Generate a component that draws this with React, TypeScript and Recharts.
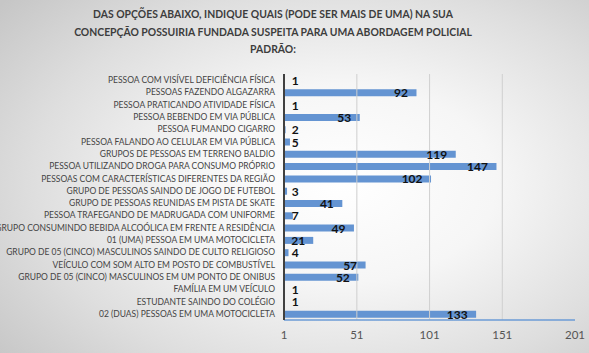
import { BarChart, Bar, XAxis, YAxis, ReferenceLine, LabelList } from 'recharts';

const categories = [
  'PESSOA COM VISÍVEL DEFICIÊNCIA FÍSICA',
  'PESSOAS FAZENDO ALGAZARRA',
  'PESSOA PRATICANDO ATIVIDADE FÍSICA',
  'PESSOA BEBENDO EM VIA PÚBLICA',
  'PESSOA FUMANDO CIGARRO',
  'PESSOA FALANDO AO CELULAR EM VIA PÚBLICA',
  'GRUPOS DE PESSOAS EM TERRENO BALDIO',
  'PESSOA UTILIZANDO DROGA PARA CONSUMO PRÓPRIO',
  'PESSOAS COM CARACTERÍSTICAS DIFERENTES DA REGIÃO',
  'GRUPO DE PESSOAS SAINDO DE JOGO DE FUTEBOL',
  'GRUPO DE PESSOAS REUNIDAS EM PISTA DE SKATE',
  'PESSOA TRAFEGANDO DE MADRUGADA COM UNIFORME',
  'GRUPO CONSUMINDO BEBIDA ALCOÓLICA EM FRENTE A RESIDÊNCIA',
  '01 (UMA) PESSOA EM UMA MOTOCICLETA',
  'GRUPO DE 05 (CINCO) MASCULINOS SAINDO DE CULTO RELIGIOSO',
  'VEÍCULO COM SOM ALTO EM POSTO DE COMBUSTÍVEL',
  'GRUPO DE 05 (CINCO) MASCULINOS EM UM PONTO DE ONIBUS',
  'FAMÍLIA EM UM VEÍCULO',
  'ESTUDANTE SAINDO DO COLÉGIO',
  '02 (DUAS) PESSOAS EM UMA MOTOCICLETA',
];

const values = [1, 92, 1, 53, 2, 5, 119, 147, 102, 3, 41, 7, 49, 21, 4, 57, 52, 1, 1, 133];

const xTicks = [1, 51, 101, 151, 201];
const gridTicks = [51, 101, 151];

const titleLines = [
  'DAS OPÇÕES ABAIXO, INDIQUE QUAIS (PODE SER MAIS DE UMA) NA SUA',
  'CONCEPÇÃO POSSUIRIA FUNDADA SUSPEITA PARA UMA ABORDAGEM POLICIAL',
  'PADRÃO:',
];

const data = categories.map((name, i) => ({ name, value: values[i] }));

const font = 'Lato, "Open Sans", sans-serif';

// Excel-style "inside end" label that spills right when the bar is too short
function ValueLabel(props: any) {
  const { x, y, width, height, value } = props;
  const textW = String(value).length * 6.6;
  const tx = Math.max(x + width - 8.5, x + 8 + textW);
  return (
    <text
      x={tx}
      y={y + height / 2}
      textAnchor="end"
      dominantBaseline="central"
      fontFamily={font}
      fontWeight={700}
      fontSize={12}
      fill="#111"
    >
      {value}
    </text>
  );
}

function CategoryTick(props: any) {
  const { x, y, payload } = props;
  return (
    <text
      x={x}
      y={y}
      textAnchor="end"
      dominantBaseline="central"
      fontFamily={font}
      fontSize={8.5}
      fill="#444"
    >
      {payload.value}
    </text>
  );
}

export default function App() {
  return (
    <div
      style={{
        position: 'absolute',
        left: 0,
        top: 0,
        width: 589,
        height: 353,
        overflow: 'hidden',
        background:
          'radial-gradient(ellipse 75% 80% at 58% 52%, #ffffff 0%, #f6f6f6 35%, #dedede 70%, #c6c6c6 100%)',
      }}
    >
      <div
        style={{
          position: 'absolute',
          left: 23,
          top: 6,
          width: 500,
          textAlign: 'center',
          fontFamily: font,
          fontWeight: 700,
          fontSize: 10.4,
          lineHeight: '17.5px',
          color: '#3d3d3d',
        }}
      >
        {titleLines.map((t) => (
          <div key={t}>{t}</div>
        ))}
      </div>
      <BarChart
        width={589}
        height={353}
        data={data}
        layout="vertical"
        margin={{ top: 74, right: 14, bottom: 8, left: 0 }}
        barCategoryGap={0}
        style={{ position: 'absolute', left: 0, top: 0 }}
      >
        {gridTicks.map((t) => (
          <ReferenceLine key={t} x={t} stroke="#cfcfcf" strokeWidth={1} />
        ))}
        <XAxis
          type="number"
          domain={[0.9, 201]}
          ticks={xTicks}
          allowDataOverflow
          axisLine={{ stroke: '#6b9bd6', strokeWidth: 1.5 }}
          tickLine={false}
          tickSize={0}
          tickMargin={11}
          height={25}
          tick={{ fontFamily: font, fontSize: 11.5, fill: '#555' }}
          interval={0}
        />
        <YAxis
          type="category"
          dataKey="name"
          width={284}
          axisLine={{ stroke: '#404040', strokeWidth: 2 }}
          tickLine={false}
          tickSize={0}
          tickMargin={9}
          interval={0}
          tick={<CategoryTick />}
        />
        <Bar dataKey="value" fill="#6494d2" barSize={7} isAnimationActive={false}>
          <LabelList dataKey="value" content={ValueLabel} />
        </Bar>
      </BarChart>
    </div>
  );
}
